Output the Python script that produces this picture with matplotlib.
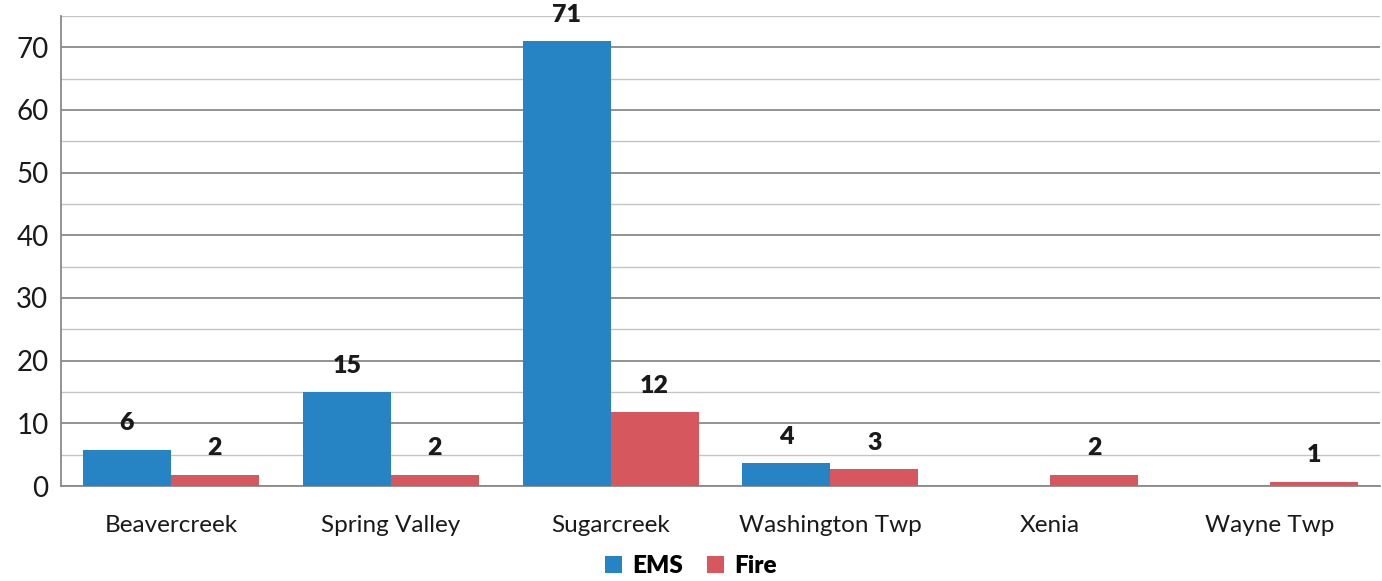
import matplotlib
matplotlib.use("Agg")
import matplotlib.pyplot as plt
import numpy as np

categories = ["Beavercreek", "Spring Valley", "Sugarcreek", "Washington Twp", "Xenia", "Wayne Twp"]
ems = [5.8, 15.0, 71.0, 3.7, 0, 0]
fire = [1.8, 1.8, 11.8, 2.7, 1.8, 0.7]
series_names = ["EMS", "Fire"]
colors = ["#2784c4", "#d6575e"]
yticks = [0, 10, 20, 30, 40, 50, 60, 70]

plt.rcParams['font.family'] = ['Lato', 'DejaVu Sans']

fig = plt.figure(figsize=(13.82, 5.81), dpi=100)
ax = fig.add_axes([0.0441, 0.1635, 0.9545, 0.809])

x = np.arange(len(categories))
w = 0.4
bars_e = ax.bar(x - w/2, ems, w, color=colors[0], label=series_names[0], zorder=3)
bars_f = ax.bar(x + w/2, fire, w, color=colors[1], label=series_names[1], zorder=3)

for bars, vals in ((bars_e, ems), (bars_f, fire)):
    for b, v in zip(bars, vals):
        if v > 0:
            ax.annotate(f"{round(v)}", (b.get_x() + b.get_width()/2, v),
                        xytext=(0, 11), textcoords="offset points",
                        ha="center", va="bottom", fontsize=18, fontweight="heavy",
                        color="#1a1a1a")

ax.set_xlim(-0.5, len(categories) - 0.5)
ax.set_ylim(0, 75)
ax.set_yticks(yticks)
ax.set_yticks(np.arange(5, 80, 10), minor=True)
ax.tick_params(axis="y", which="both", length=0, pad=9, labelsize=20, labelcolor="#1a1a1a")
ax.set_xticks(x)
ax.set_xticklabels(categories)
ax.tick_params(axis="x", length=0, pad=21, labelsize=17.5, labelcolor="#1a1a1a")

ax.grid(axis="y", which="major", color="#8a8a8a", linewidth=1.3, zorder=0)
ax.grid(axis="y", which="minor", color="#c4c4c4", linewidth=1.0, zorder=0)
for s in ("top", "right"):
    ax.spines[s].set_visible(False)
ax.spines["left"].set_color("#8a8a8a")
ax.spines["left"].set_linewidth(1.3)
ax.spines["bottom"].set_color("#8a8a8a")
ax.spines["bottom"].set_linewidth(1.3)

leg = fig.legend(loc="center", bbox_to_anchor=(0.5, 0.025), ncol=2, frameon=False,
                 prop={"weight": "heavy", "size": 17.5}, handlelength=0.7, handleheight=0.7,
                 handletextpad=0.4, columnspacing=1.0)

fig.savefig("out.png", dpi=100)
